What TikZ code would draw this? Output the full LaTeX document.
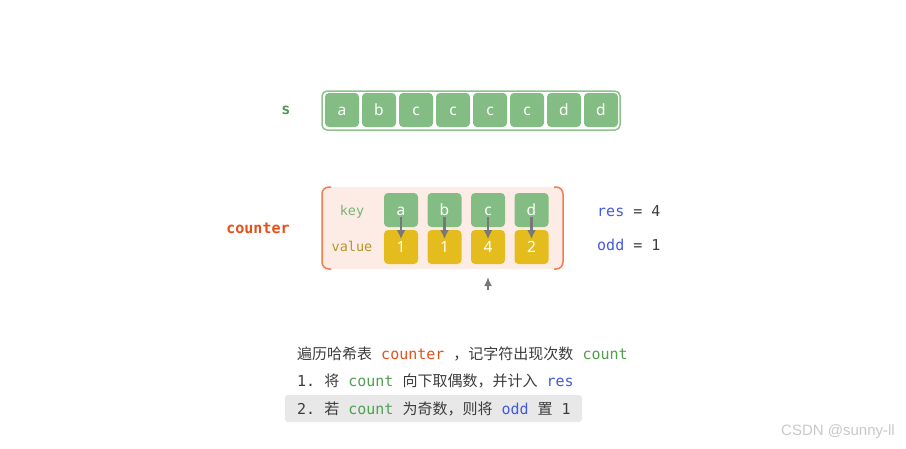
\documentclass[tikz,border=0pt]{standalone}
\usepackage{fontspec}
\setmainfont{Noto Sans}
\setmonofont{DejaVu Sans Mono}
\newfontfamily\cjk{Noto Sans CJK SC}
\newfontfamily\wmfont{Liberation Sans}
\usetikzlibrary{arrows.meta}
\definecolor{cellgreen}{RGB}{132,189,132}
\definecolor{boxgreen}{RGB}{140,196,140}
\definecolor{sgreen}{RGB}{80,150,80}
\definecolor{codegreen}{RGB}{80,160,80}
\definecolor{keygreen}{RGB}{120,180,120}
\definecolor{cellyellow}{RGB}{228,188,30}
\definecolor{valgold}{RGB}{180,150,40}
\definecolor{pinkfill}{RGB}{253,236,230}
\definecolor{orangeline}{RGB}{240,125,80}
\definecolor{cntred}{RGB}{232,80,25}
\definecolor{codeblue}{RGB}{65,90,225}
\definecolor{arrowgray}{RGB}{120,120,120}
\definecolor{hlgray}{RGB}{232,232,232}
\definecolor{txtdark}{RGB}{60,60,60}
\definecolor{wmgray}{RGB}{200,200,200}
\tikzset{
  scell/.style={rectangle, rounded corners=4pt, fill=cellgreen, minimum width=34pt, minimum height=34pt, inner sep=0pt, text height=10pt, text depth=0pt, text=white, font=\fontsize{15.5}{16}\selectfont},
  vcell/.style={scell, fill=cellyellow},
  kvarrow/.style={draw=arrowgray, line width=2.2pt, -{Latex[length=9pt,width=9pt]}},
  mono/.style={font=\fontsize{15}{16}\selectfont\ttfamily},
  txt/.style={anchor=west, inner sep=0pt, text=txtdark, font=\fontsize{15}{16}\selectfont}
}
\begin{document}
\begin{tikzpicture}[x=1pt,y=-1pt]
\useasboundingbox (0,0) rectangle (906,448);
% s array
\node[mono, text=sgreen, font=\fontsize{15}{16}\selectfont\ttfamily\bfseries] (slabel) at (286,110) {s};
\draw[boxgreen, line width=1.5pt, rounded corners=5pt, fill=white] (322,91) rectangle (620,130);
\foreach \ch [count=\i from 0] in {a,b,c,c,c,c,d,d} {
  \node[scell] (s\i) at ({342+37*\i},110) {\ch};
}
% counter box
\fill[pinkfill] (322,187) rectangle (563,269);
\draw[orangeline, line width=1.5pt, rounded corners=7pt] (331,187) -- (322,187) -- (322,269) -- (331,269);
\draw[orangeline, line width=1.5pt, rounded corners=7pt] (554,187) -- (563,187) -- (563,269) -- (554,269);
\node[mono, text=cntred, font=\fontsize{15}{16}\selectfont\ttfamily\bfseries] (counter) at (258,228) {counter};
\node[mono, text=keygreen, font=\fontsize{13.5}{16}\selectfont\ttfamily] (keylbl) at (352,212) {key};
\node[mono, text=valgold, font=\fontsize{13.5}{16}\selectfont\ttfamily] (vallbl) at (352,246) {value};
\foreach \k/\v [count=\i from 0] in {a/1,b/1,c/4,d/2} {
  \node[scell] (k\i) at ({401+43.5*\i},210) {\k};
  \node[vcell] (v\i) at ({401+43.5*\i},247) {\v};
  \coordinate (ka\i) at ({401+43.5*\i},217);
  \coordinate (va\i) at ({401+43.5*\i},239);
  \draw[kvarrow] (ka\i) -- (va\i);
}
% pointer arrow
\coordinate (pb) at (488,290);
\coordinate (pt) at (488,277);
\draw[draw=arrowgray, line width=2pt, -{Latex[length=9pt,width=8pt]}] (pb) -- (pt);
% res / odd
\node[txt, mono] (res) at (597,211) {\textcolor{codeblue}{res} = 4};
\node[txt, mono] (odd) at (597,245) {\textcolor{codeblue}{odd} = 1};
% description text
\fill[hlgray, rounded corners=3pt] (285,395) rectangle (582,422);
\node[txt] (l1) at (297,354) {{\cjk 遍历哈希表}\ttfamily{} \textcolor{cntred}{counter} {\cjk ，记字符出现次数} \textcolor{codegreen}{count}};
\node[txt] (l2) at (297,381) {\ttfamily 1. {\cjk 将} \textcolor{codegreen}{count} {\cjk 向下取偶数，并计入} \textcolor{codeblue}{res}};
\node[txt] (l3) at (297,409) {\ttfamily 2. {\cjk 若} \textcolor{codegreen}{count} {\cjk 为奇数，则将} \textcolor{codeblue}{odd} {\cjk 置} 1};
% watermark
\node[anchor=east, inner sep=0pt, text=wmgray, font=\fontsize{15}{16}\selectfont\wmfont] (wm) at (895,432) {CSDN @sunny-ll};
\end{tikzpicture}
\end{document}
